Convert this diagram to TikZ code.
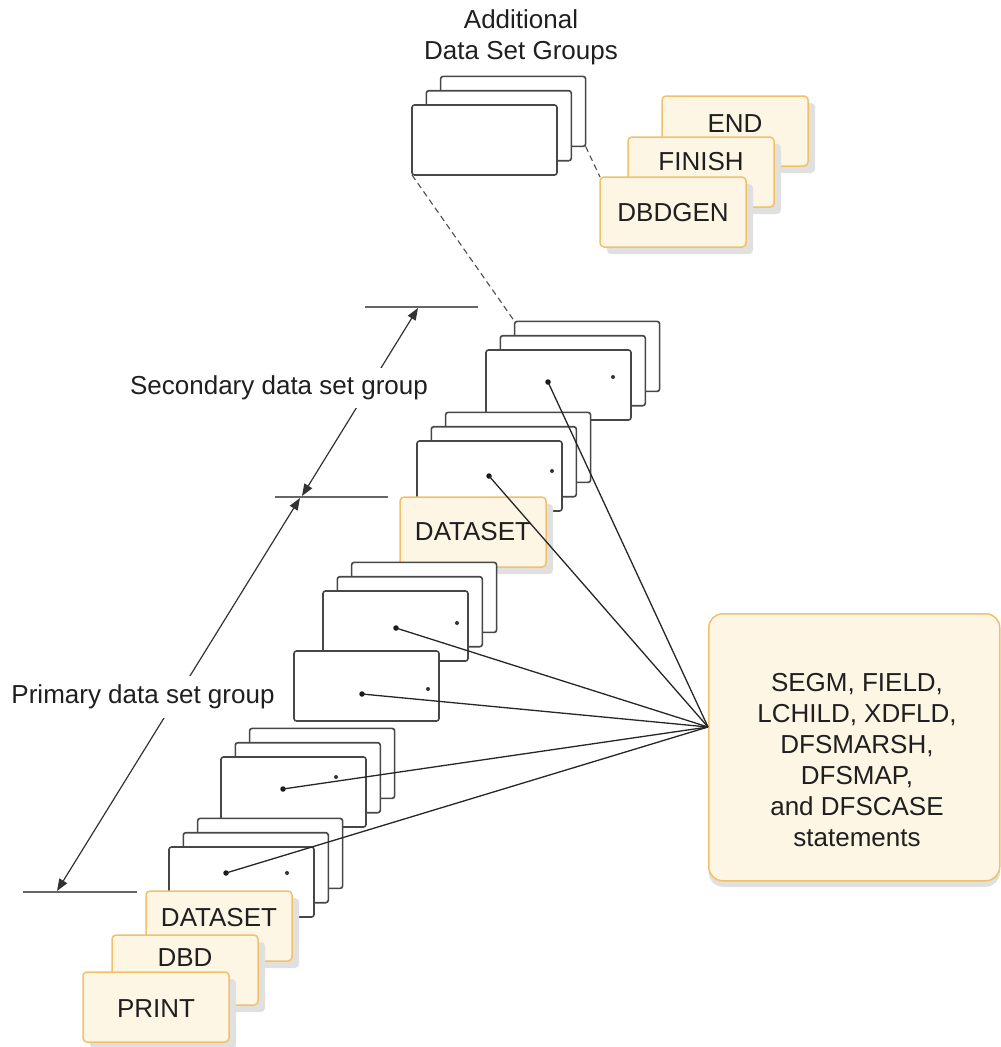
\documentclass[tikz,border=0pt]{standalone}
\usepackage{fontspec}
\setmainfont{Liberation Sans}
\usetikzlibrary{arrows.meta,shadows}
\definecolor{ofill}{HTML}{FEF6E4}
\definecolor{oline}{HTML}{F3C068}
\definecolor{cline}{HTML}{474747}
\newcommand{\cardstack}[4]{\foreach \i in {#4,...,0}{\node[card] (#1-\i) at ({#2+14.3*\i},{#3-14.3*\i}) {};}}
\begin{document}
\begin{tikzpicture}[x=1pt,y=-1pt,
 card/.style={draw=cline,line width=1.6pt,fill=white,rounded corners=2.5pt,minimum width=145pt,minimum height=70pt,anchor=north west,inner sep=0pt,outer sep=0pt},
 obox/.style={draw=oline,fill=ofill,line width=1.5pt,rounded corners=4pt,minimum width=146pt,minimum height=70pt,anchor=north west,inner sep=0pt,outer sep=0pt,drop shadow={shadow xshift=7pt,shadow yshift=-7pt,fill=black!12,opacity=1}},
 lbl/.style={font=\fontsize{26}{31}\selectfont,inner sep=0pt,text=black!88},
 dotL/.style={circle,fill=black!90,inner sep=0pt,minimum size=5.5pt},
 dotS/.style={circle,fill=black!80,inner sep=0pt,minimum size=4pt},
 conn/.style={draw=black!85,line width=1.3pt},
 tick/.style={draw=black!60,line width=1.8pt},
 dim/.style={draw=black!80,line width=1.2pt,{Triangle[length=12pt,width=9pt]}-{Triangle[length=12pt,width=9pt]}},
 dashline/.style={draw=black!70,line width=1.1pt,dash pattern=on 6pt off 4pt}]
\useasboundingbox (0,0) rectangle (1001,1047);

% dimension markers
\draw[tick] (365,307) -- (478,307);
\draw[tick] (275,497) -- (388,497);
\draw[tick] (23,892) -- (137,892);
\coordinate (secTop) at (418,308);
\coordinate (secBot) at (302,496);
\coordinate (priTop) at (300,498);
\coordinate (priBot) at (57,891);
\draw[dim] (secTop) -- (secBot);
\draw[dim] (priTop) -- (priBot);
\node[lbl,fill=white,inner xsep=2pt,inner ysep=8pt] (sectext) at (279,388) {Secondary data set group};
\node[lbl,fill=white,inner xsep=2pt,inner ysep=9pt] (pritext) at (143,697) {Primary data set group};

% additional data set groups
\node[lbl,align=center] (addtext) at (521,37) {Additional\\Data Set Groups};
\cardstack{add}{412}{105}{2}
\coordinate (addDash) at (add-2.south east);

% orange top boxes
\node[obox] (endb) at (662,96) {};
\node[lbl] at ([yshift=-28pt]endb.north) {END};
\node[obox] (finb) at (628,137) {};
\node[lbl] at ([yshift=-25pt]finb.north) {FINISH};
\node[obox] (dbdgen) at (600,177) {};
\node[lbl] at ([yshift=-36pt]dbdgen.north) {DBDGEN};

% secondary group
\cardstack{secu}{486}{350}{2}
\draw[dashline] (add-0.south west) -- (secu-2.north west);
\draw[dashline] (addDash) -- (dbdgen.north west);
\cardstack{secl}{417}{441}{2}
\node[obox] (dsu) at (400,497) {};
\node[lbl] at ([yshift=-35pt]dsu.north) {DATASET};

% primary group
\cardstack{pa}{323}{591}{2}
\node[card] (pb) at (294,651) {};
\cardstack{pc}{221}{757}{2}
\cardstack{pd}{169}{847}{2}
\node[obox] (dsl) at (146,891) {};
\node[lbl] at ([yshift=-27pt]dsl.north) {DATASET};
\node[obox] (dbd) at (112,935) {};
\node[lbl] at ([yshift=-23pt]dbd.north) {DBD};
\node[obox] (print) at (83,972) {};
\node[lbl] at ([yshift=-37pt]print.north) {PRINT};

% statements box
\node[draw=oline,fill=ofill,line width=1.5pt,rounded corners=14pt,minimum width=291pt,minimum height=267pt,anchor=north west,inner sep=0pt,drop shadow={shadow xshift=0pt,shadow yshift=-6pt,fill=black!12,opacity=1}] (stmts) at (708,613) {};
\node[lbl,align=center] (stmttext) at (857,760) {SEGM, FIELD,\\LCHILD, XDFLD,\\DFSMARSH,\\DFSMAP,\\and DFSCASE\\statements};
\coordinate (conv) at (708,727);

% dots
\node[dotL] (d1) at (548,382) {}; \node[dotS] (s1) at (613,377) {};
\node[dotL] (d2) at (489,476) {}; \node[dotS] (s2) at (552,471) {};
\node[dotL] (d3) at (396,628) {}; \node[dotS] (s3) at (457,623) {};
\node[dotL] (d4) at (362,694) {}; \node[dotS] (s4) at (428,689) {};
\node[dotL] (d5) at (283,789) {}; \node[dotS] (s5) at (336,777) {};
\node[dotL] (d6) at (226,873) {}; \node[dotS] (s6) at (287,873) {};
\foreach \d in {d1,d2,d3,d4,d5,d6} \draw[conn] (\d.center) -- (conv);
\end{tikzpicture}
\end{document}
